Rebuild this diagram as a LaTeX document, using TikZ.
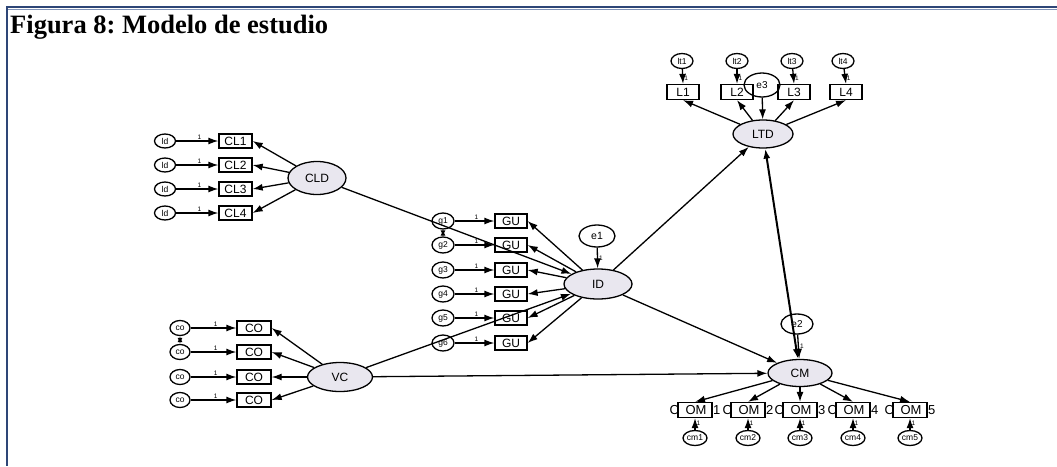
\documentclass[tikz,border=0pt]{standalone}
\usepackage{fontspec}
\setmainfont{Liberation Serif}
\newfontfamily\amosfont{Liberation Sans}
\usetikzlibrary{shapes.geometric,arrows.meta}
\definecolor{latfill}{HTML}{E9E7EF}
\definecolor{navy}{HTML}{2E4677}
\definecolor{navylt}{HTML}{8093B8}
\frenchspacing
\begin{document}
\begin{tikzpicture}[x=1pt,y=-1pt,
  lat/.style={ellipse, draw, line width=1.3pt, fill=latfill, inner sep=0pt, font=\amosfont\fontsize{12}{13}\selectfont},
  err/.style={ellipse, draw, line width=1.3pt, fill=white, inner sep=0pt, font=\amosfont\fontsize{8.5}{9}\selectfont},
  obs/.style={rectangle, draw, line width=1.3pt, fill=white, inner sep=0pt, minimum height=14pt, font=\amosfont\fontsize{12}{13}\selectfont},
  arr/.style={-{Latex[length=10pt,width=7pt]}, line width=1.3pt},
  darr/.style={{Latex[length=10pt,width=7pt]}-{Latex[length=10pt,width=7pt]}, line width=1.3pt},
  one/.style={font=\amosfont\fontsize{6.5}{7}\selectfont, inner sep=1pt}
]
\useasboundingbox (0,0) rectangle (1057,466);
\fill[white] (0,0) rectangle (1057,466);
% frame
\draw[navy, line width=2.2pt] (6,7) -- (1057,7);
\draw[navylt, line width=0.7pt] (8,9.4) -- (1057,9.4);
\draw[navy, line width=1.8pt] (7,6) -- (7,466);
\node[anchor=base west, inner sep=0pt, font=\bfseries\fontsize{26.5}{30}\selectfont] (title) at (10,33) {Figura 8: Modelo de estudio};

% latent variables
\node[lat, minimum width=58pt, minimum height=33pt] (cld) at (317,178) {CLD};
\node[lat, minimum width=68pt, minimum height=30pt] (id) at (598,284) {ID};
\node[lat, minimum width=65pt, minimum height=29pt] (vc) at (340,377) {VC};
\node[lat, minimum width=60pt, minimum height=28pt] (ltd) at (763,134) {LTD};
\node[lat, minimum width=64pt, minimum height=27pt] (cm) at (800,373) {CM};

% CLD indicators
\foreach \i/\y in {1/141,2/165,3/189,4/213}{
  \node[obs, minimum width=33pt] (cl\i) at (235.5,\y) {CL\i};
  \node[err, minimum width=21pt, minimum height=14pt] (ld\i) at (165,\y) {ld};
  \draw[arr] (ld\i) -- node[above, pos=0.55, one] {1} (cl\i.west);
  \draw[arr] (cld) -- (cl\i.east);
}

% ID indicators
\foreach \i/\y in {1/221,2/245,3/270,4/294,5/318,6/343}{
  \node[obs, minimum width=32pt] (gu\i) at (511,\y) {GU};
  \node[err, minimum width=22pt, minimum height=16pt] (g\i) at (443,\y) {g\i};
  \draw[arr] (g\i) -- node[above, pos=0.55, one] {1} (gu\i.west);
  \draw[arr] (id) -- (gu\i.east);
}
\draw[darr, {Latex[length=6pt,width=5pt]}-{Latex[length=6pt,width=5pt]}] (g1) -- (g2);

% VC indicators
\foreach \i/\y in {1/328,2/352,3/377,4/400}{
  \node[obs, minimum width=34pt] (co\i) at (254,\y) {CO};
  \node[err, minimum width=20pt, minimum height=15pt] (cc\i) at (180,\y) {co};
  \draw[arr] (cc\i) -- node[above, pos=0.55, one] {1} (co\i.west);
  \draw[arr] (vc) -- (co\i.east);
}
\draw[darr, {Latex[length=6pt,width=5pt]}-{Latex[length=6pt,width=5pt]}] (cc1) -- (cc2);

% LTD indicators
\foreach \i/\x/\xe in {1/683/682,2/737/737,3/794/792,4/846/843}{
  \node[obs, minimum width=32pt, minimum height=15pt] (l\i) at (\x,92) {L\i};
  \node[err, minimum width=22pt, minimum height=15pt] (lt\i) at (\xe,61) {lt\i};
  \draw[arr] (lt\i) -- node[right, pos=0.6, one] {1} (l\i.north);
  \draw[arr] (ltd) -- (l\i.south);
}
\node[ellipse, draw, line width=1.3pt, inner sep=0pt, minimum width=36pt, minimum height=24pt, font=\amosfont\fontsize{10}{11}\selectfont] (e3) at (762,85) {e3};
\draw[arr] (e3) -- (ltd);

% CM indicators
\foreach \i/\x in {1/695,2/748,3/800,4/853,5/910}{
  \node[obs, minimum width=34pt, minimum height=15pt] (com\i) at (\x,410) {};
  \node[font=\amosfont\fontsize{13}{14}\selectfont, inner sep=0pt] at (com\i) {C\hspace{6.5pt}OM\hspace{6.5pt}\i};
  \node[err, minimum width=24pt, minimum height=15pt] (m\i) at (\x,438) {cm\i};
  \draw[arr] (m\i) -- node[right, pos=0.6, one] {1} (com\i.south);
  \draw[arr] (cm) -- (com\i.north);
}

% disturbances
\node[err, minimum width=36pt, minimum height=22pt, font=\amosfont\fontsize{10.5}{11}\selectfont] (e1) at (597,236) {e1};
\node[err, minimum width=32pt, minimum height=20pt, font=\amosfont\fontsize{10}{11}\selectfont] (e2) at (797,324) {e2};
\draw[arr] (e1) -- node[right, one] {1} (id);
\draw[arr] (e2) -- node[right, one] {1} (cm);

% structural paths
\draw[arr] (cld) -- (id);
\draw[arr] (vc) -- (id);
\draw[arr] (vc) -- (cm);
\draw[arr] (id) -- (ltd);
\draw[arr] (id) -- (cm);
\draw[darr, line width=2pt] (ltd) -- (cm);
\end{tikzpicture}
\end{document}
